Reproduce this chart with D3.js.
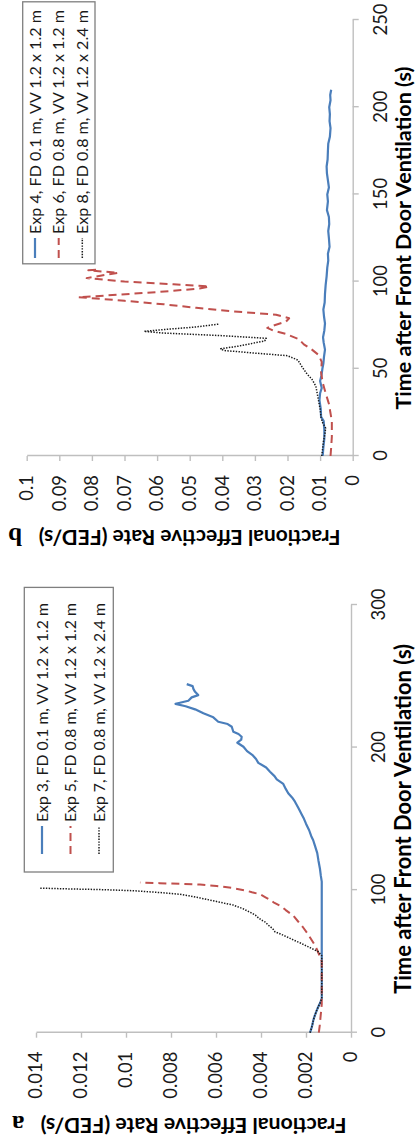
<!DOCTYPE html>
<html>
<head>
<meta charset="utf-8">
<script src="https://cdn.jsdelivr.net/npm/d3@7"></script>
<style>
  html, body { margin: 0; padding: 0; background: #fff; }
  svg { display: block; }
</style>
</head>
<body>
<svg id="fig" width="415" height="1138"></svg>
<script>
// ---- Panel a: FED rate after front door ventilation, Exp 3 / 5 / 7 ([time s, FED/s]) ----
const exp3 = [[0,0.00182],[3,0.00176],[6,0.00171],[9,0.00167],[12,0.00161],[15,0.00154],[18,0.00146],[21,0.00137],[24,0.0013],[40,0.0013],[60,0.0013],[80,0.0013],[100,0.0013],[106,0.0013],[110,0.00134],[115,0.00138],[121,0.00145],[126,0.0015],[131,0.0016],[135,0.00168],[138,0.00177],[142,0.00186],[146.6,0.002],[150,0.00209],[153,0.00219],[157,0.00232],[162,0.00249],[165,0.00262],[168,0.00279],[171,0.0029],[174.5,0.00301],[177.7,0.0033],[180,0.0034],[183,0.0036],[186,0.00377],[189.3,0.00412],[192,0.00422],[194.5,0.00436],[197.5,0.00462],[200.6,0.00478],[203.4,0.00505],[205.5,0.00488],[207.6,0.00486],[209.5,0.005],[211.1,0.00523],[214.6,0.0053],[216.5,0.00548],[218.1,0.0059],[221.2,0.00612],[224,0.00656],[226.8,0.00693],[229,0.00735],[230.6,0.0078],[231.4,0.0076],[232.8,0.00723],[235.2,0.00708],[236.8,0.00679],[239.1,0.00693],[241,0.007],[243.1,0.00704],[244.5,0.0073]];
const exp5 = [[0,0.00143],[5,0.00139],[10,0.00136],[15,0.00133],[20,0.0013],[30,0.0013],[40,0.0013],[50,0.0013],[53.3,0.00138],[58,0.0015],[62,0.00163],[65,0.00175],[70,0.00195],[74.3,0.00215],[78,0.00235],[82,0.00256],[86,0.0029],[88.4,0.00308],[91,0.0034],[93.3,0.0036],[95,0.0038],[97.1,0.00404],[98.5,0.0044],[99.6,0.00464],[101.4,0.00523],[102.9,0.00597],[103.9,0.00671],[104.4,0.0076],[104.9,0.0085],[105.3,0.00938]];
const exp7 = [[0,0.00182],[3,0.00176],[6,0.00171],[9,0.00167],[12,0.00161],[15,0.00154],[18,0.00146],[21,0.00137],[24,0.0013],[40,0.0013],[54,0.0013],[56.8,0.00145],[59.5,0.0018],[62.7,0.00222],[65,0.00255],[67.3,0.00286],[69,0.0031],[70.8,0.00338],[73,0.00348],[75.5,0.00368],[77.5,0.0038],[79,0.00398],[81,0.00415],[82.5,0.00425],[84.2,0.00445],[86.9,0.00479],[89.5,0.00523],[92,0.00597],[94.5,0.00671],[96,0.0072],[97.1,0.0076],[98.3,0.00849],[99.6,0.00967],[100.4,0.01116],[100.9,0.01264],[101.4,0.01382]];

// ---- Panel b: Exp 4 / 6 / 8 ----
const exp4 = [[0,0.0092],[5,0.009],[10,0.0087],[15,0.0087],[20,0.0089],[22.5,0.0097],[27,0.0098],[32,0.0102],[36,0.01],[39,0.0095],[43,0.01],[46,0.0096],[50,0.0093],[53,0.009],[57,0.0088],[61,0.0085],[65,0.0089],[68,0.0091],[72,0.0087],[76,0.0085],[80,0.0088],[84,0.009],[88,0.0086],[93,0.0085],[98,0.0083],[103,0.008],[108,0.0078],[112,0.0075],[116,0.0076],[120,0.0071],[125,0.0073],[129,0.0075],[133,0.0072],[137,0.0073],[141,0.0079],[146,0.0076],[150,0.0078],[154,0.0073],[158,0.0076],[162,0.0079],[166,0.008],[170,0.0077],[175,0.0076],[179,0.0075],[183,0.007],[188,0.0068],[192,0.0071],[196,0.007],[200,0.0072],[204,0.0068],[207,0.0069],[210,0.0066]];
const exp6 = [[0,0.0068],[5,0.0066],[11,0.0064],[20,0.0064],[30,0.0073],[36,0.0083],[42,0.0092],[48,0.0097],[54,0.0095],[58,0.0105],[61,0.0125],[64,0.015],[67,0.0165],[70,0.0205],[72,0.0245],[73.5,0.0262],[75,0.024],[77,0.0205],[79,0.0195],[81,0.0235],[83,0.037],[85,0.048],[87,0.058],[89,0.07],[90.5,0.08],[91,0.0842],[92,0.076],[94,0.06],[96,0.047],[97.2,0.044],[98.5,0.055],[100,0.07],[102,0.0816],[103.5,0.077],[105,0.0719],[106.5,0.0811],[107,0.0775]];
const exp8 = [[0,0.0095],[3,0.0093],[8,0.009],[13,0.0085],[16,0.0083],[19,0.0092],[22,0.0097],[27,0.01],[34,0.0107],[40,0.0113],[44,0.0125],[47,0.014],[51,0.0155],[55,0.0168],[57.5,0.02],[59,0.03],[60.5,0.0395],[61.5,0.0405],[63,0.035],[66,0.027],[67.5,0.0265],[69,0.04],[70.5,0.058],[71.5,0.064],[72.5,0.058],[74,0.048],[75.7,0.0408]];

// ---- Axis ticks and labels ----
const timeTicksA = [0, 100, 200, 300];
const rateTicksA = [0, 0.002, 0.004, 0.006, 0.008, 0.01, 0.012, 0.014];
const rateLabelsA = ["0", "0.002", "0.004", "0.006", "0.008", "0.01", "0.012", "0.014"];
const timeTicksB = [0, 50, 100, 150, 200, 250];
const rateTicksB = [0, 0.01, 0.02, 0.03, 0.04, 0.05, 0.06, 0.07, 0.08, 0.09, 0.1];
const rateLabelsB = ["0", "0.01", "0.02", "0.03", "0.04", "0.05", "0.06", "0.07", "0.08", "0.09", "0.1"];

// ---- Legend entries ----
const legendA = ["Exp 3, FD 0.1 m, VV 1.2 x 1.2 m", "Exp 5, FD 0.8 m, VV 1.2 x 1.2 m", "Exp 7, FD 0.8 m, VV 1.2 x 2.4 m"];
const legendB = ["Exp 4, FD 0.1 m, VV 1.2 x 1.2 m", "Exp 6, FD 0.8 m, VV 1.2 x 1.2 m", "Exp 8, FD 0.8 m, VV 1.2 x 2.4 m"];

const timeTitle = "Time after Front Door Ventilation (s)";
const rateTitle = "Fractional Effective Rate (FED/s)";

// Line styles: door 0.1 m (solid blue), 0.8 m (dashed red), 0.8 m with tall vent (dotted black)
const seriesStyles = [
  { color: "#4a7ebb", width: 2.2, dash: null },
  { color: "#c0504d", width: 2.0, dash: "8,5" },
  { color: "#1a1a1a", width: 1.5, dash: "1.4,1.4" }
];

const FONT = "Lato, 'Open Sans', sans-serif";
const AXIS_COLOR = "#bfbfbf";

// Scale a text's font size so that its run is `len` pixels long.
function fitLength(sel, len, base) {
  sel.style("font-size", base + "px");
  const w = sel.node().getComputedTextLength();
  const fs = base * len / w;
  sel.style("font-size", fs.toFixed(2) + "px");
  return fs;
}

const svg = d3.select("#fig");
svg.append("rect").attr("width", 415).attr("height", 1138).attr("fill", "#fff");

// The figure is laid out landscape (1138 wide x 415 tall) and turned a quarter turn
// counter-clockwise onto the portrait page.
const fig = svg.append("g").attr("transform", "translate(0,1138) rotate(-90)");

function drawPanel(p) {
  const g = fig.append("g");
  const x = d3.scaleLinear().domain([0, p.tMax]).range([p.u0, p.u1]);
  const y = d3.scaleLinear().domain([0, p.rMax]).range([p.v0, p.v1]);

  // time axis
  const xa = g.append("g")
    .attr("transform", `translate(0,${p.v0})`)
    .call(d3.axisBottom(x).tickValues(p.timeTicks).tickSize(6).tickPadding(15).tickSizeOuter(0));
  // rate axis
  const ya = g.append("g")
    .attr("transform", `translate(${p.u0},0)`)
    .call(d3.axisLeft(y).tickValues(p.rateTicks).tickFormat((d, i) => p.rateLabels[i])
      .tickSize(5).tickPadding(14).tickSizeOuter(0));
  [xa, ya].forEach(a => {
    a.attr("font-family", null).attr("font-size", null);
    a.select(".domain").attr("stroke", AXIS_COLOR).attr("stroke-width", 1.4);
    a.selectAll(".tick line").attr("stroke", AXIS_COLOR).attr("stroke-width", 1.4);
    a.selectAll(".tick text").attr("fill", "#1a1a1a").style("font-family", FONT)
      .style("font-size", p.tickFs + "px");
  });

  // data lines
  const line = d3.line().x(d => x(d[0])).y(d => y(d[1]));
  p.series.forEach((s, i) => {
    const st = seriesStyles[i];
    g.append("path").datum(s)
      .attr("d", line)
      .attr("fill", "none")
      .attr("stroke", st.color)
      .attr("stroke-width", st.width)
      .attr("stroke-linejoin", "round")
      .attr("stroke-dasharray", st.dash);
  });

  // legend
  const L = p.legend;
  g.append("rect")
    .attr("x", L.u).attr("y", L.v).attr("width", L.w).attr("height", L.h)
    .attr("fill", "#fff").attr("stroke", "#7f7f7f").attr("stroke-width", 1.3);
  p.legendLabels.forEach((lab, i) => {
    const st = seriesStyles[i];
    const vy = L.rows[i];
    g.append("line")
      .attr("x1", L.s0).attr("x2", L.s1).attr("y1", vy).attr("y2", vy)
      .attr("stroke", st.color).attr("stroke-width", st.width)
      .attr("stroke-dasharray", st.dash);
    const t = g.append("text")
      .attr("x", L.t).attr("y", vy).attr("dy", "0.36em")
      .style("font-family", FONT).attr("fill", "#1a1a1a")
      .text(lab);
    fitLength(t, L.len, 15);
  });

  // axis titles
  const tt = g.append("text")
    .attr("x", (p.u0 + p.u1) / 2).attr("y", p.timeTitleV)
    .attr("text-anchor", "middle")
    .style("font-family", FONT).style("font-weight", "bold")
    .attr("fill", "#000")
    .text(timeTitle);
  fitLength(tt, p.timeTitleLen, 18);
  const rt = g.append("text")
    .attr("transform", `translate(${p.rateTitleU},${(p.v0 + p.v1) / 2}) rotate(-90)`)
    .attr("text-anchor", "middle")
    .style("font-family", FONT).style("font-weight", "bold")
    .attr("fill", "#000")
    .text(rateTitle);
  fitLength(rt, p.rateTitleLen, 18);

  // panel letter
  g.append("text")
    .attr("transform", `translate(${p.letterU},${p.letterV}) rotate(-90)`)
    .attr("text-anchor", "middle")
    .style("font-family", "'Liberation Serif', 'DejaVu Serif', serif")
    .style("font-size", "25px").style("font-weight", "bold")
    .attr("fill", "#000")
    .text(p.letter);
}

// common tick-label size: "0.014" runs about 47 px
const probe = fig.append("text").style("font-family", FONT).text("0.014");
const TICK_FS = fitLength(probe, 47, 18);
probe.remove();

drawPanel({
  tMax: 300, rMax: 0.014,
  u0: 105.3, u1: 533, v0: 351, v1: 36,
  timeTicks: timeTicksA, rateTicks: rateTicksA, rateLabels: rateLabelsA, tickFs: TICK_FS,
  series: [exp3, exp5, exp7],
  legendLabels: legendA,
  legend: { u: 266, v: 24.3, w: 284.6, h: 89, rows: [42, 70.5, 99], s0: 284, s1: 312, t: 316, len: 219 },
  timeTitleV: 411, timeTitleLen: 350, rateTitleU: 20, rateTitleLen: 306,
  letter: "a", letterU: 22.5, letterV: 18.3
});

drawPanel({
  tMax: 250, rMax: 0.1,
  u0: 682, u1: 1118, v0: 352.7, v1: 26.7,
  timeTicks: timeTicksB, rateTicks: rateTicksB, rateLabels: rateLabelsB, tickFs: TICK_FS,
  series: [exp4, exp6, exp8],
  legendLabels: legendB,
  legend: { u: 874.2, v: 22.7, w: 262, h: 72.3, rows: [35, 58.7, 82.3], s0: 880, s1: 900, t: 904, len: 224 },
  timeTitleV: 411, timeTitleLen: 343, rateTitleU: 608, rateTitleLen: 302,
  letter: "b", letterU: 610, letterV: 15
});
</script>
</body>
</html>
